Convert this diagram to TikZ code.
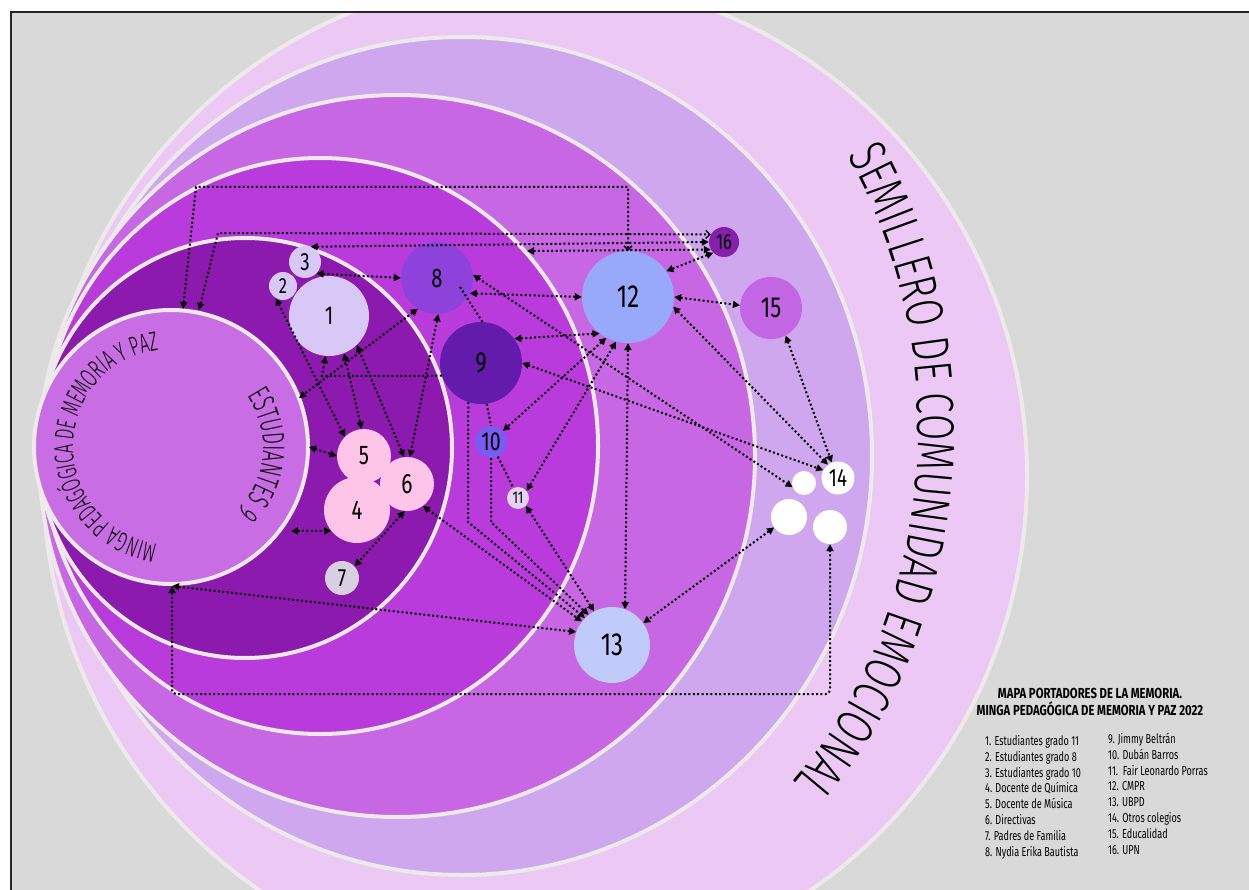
\documentclass[tikz,border=0pt]{standalone}
\usepackage{fontspec}
\usetikzlibrary{arrows.meta,decorations.text}
\newfontfamily\numfont[FakeStretch=0.75]{Fira Sans}
\newfontfamily\legfont[FakeStretch=0.70]{Fira Sans}
\newfontfamily\titfont[FakeStretch=0.78]{Fira Sans}
\newfontfamily\semfont[FakeStretch=0.72]{Fira Sans Light}
\newfontfamily\ringfont[FakeStretch=0.60]{Fira Sans Light}
\definecolor{bg}{HTML}{D9D9D9}
\definecolor{eA}{HTML}{ECC9F5}
\definecolor{eB}{HTML}{CEA7EE}
\definecolor{eC}{HTML}{C767E3}
\definecolor{eD}{HTML}{B93BDC}
\definecolor{eE}{HTML}{8C1AAE}
\definecolor{eF}{HTML}{C86DE3}
\definecolor{rim}{HTML}{EEE9EA}
\definecolor{cLav}{HTML}{D8C8F8}
\definecolor{cEight}{HTML}{8E42DC}
\definecolor{cNine}{HTML}{621BAB}
\definecolor{cTen}{HTML}{7B5CF0}
\definecolor{cEleven}{HTML}{E6D3F3}
\definecolor{cTwelve}{HTML}{98A9FC}
\definecolor{cThirteen}{HTML}{C0CBFB}
\definecolor{cFifteen}{HTML}{C266E3}
\definecolor{cSixteen}{HTML}{861FAA}
\definecolor{cPink}{HTML}{FEC5E8}
\definecolor{cSeven}{HTML}{D9CFE2}
\tikzset{
  Tri/.tip={Triangle[length=7pt,width=7pt]},
  Chev/.tip={Straight Barb[length=4pt,width=8pt,line width=1.4pt]},
  ring/.style={draw=rim, line width=4pt},
  bub/.style={circle, inner sep=0pt, minimum size=#1, text=black},
  num/.style={font=\numfont\fontsize{#1}{#1}\selectfont},
  lnk/.style={draw=black, line width=2pt, dash pattern=on 2pt off 2.4pt},
  twoway/.style={lnk, Tri-Tri},
  oneway/.style={lnk, -Tri},
  leg/.style={font=\legfont\fontsize{13}{13}\selectfont, inner sep=0pt, anchor=base west},
  tit/.style={font=\titfont\bfseries\fontsize{14.5}{14.5}\selectfont, inner sep=0pt}
}
\begin{document}
\begin{tikzpicture}[x=1pt,y=-1pt]
\useasboundingbox (0,0) rectangle (1249,890);
\fill[white] (0,0) rectangle (1249,890);
\fill[bg] (11,12) rectangle (1249,890);
% nested rings
\begin{scope}
\clip (11,12) rectangle (1249,890);
\draw[ring, fill=eA] (535,476) ellipse [x radius=492, y radius=500];
\draw[ring, fill=eB] (462,456) ellipse [x radius=410, y radius=419];
\draw[ring, fill=eC] (397,456) ellipse [x radius=358, y radius=361];
\draw[ring, fill=eD] (320,446) ellipse [x radius=278, y radius=288];
\draw[ring, fill=eE] (245,448) ellipse [x radius=207, y radius=210];
\draw[ring, fill=eF] (171,447) circle [radius=137];
\end{scope}
\draw[line width=1.5pt, draw=black!85] (11,890) -- (11,12) -- (1249,12);
% curved texts
\path[decorate, decoration={text along path, text align=center,
  text={|\semfont\fontsize{53}{53}\selectfont|SEMILLERO DE COMUNIDAD EMOCIONAL}}]
  (822.5,116.3) arc[start angle=-40, end angle=52, x radius=408, y radius=488];
\path[decorate, decoration={text along path, text align=center,
  text={|\ringfont\fontsize{27}{27}\selectfont|MINGA PEDAGÓGICA DE MEMORIA Y PAZ}}]
  (162.5,544.6) arc[start angle=95, end angle=266, radius=98];
\path[decorate, decoration={text along path, text align=center,
  text={|\ringfont\fontsize{31}{31}\selectfont|ESTUDIANTES 9}}]
  (236.1,381.9) arc[start angle=-45, end angle=55, radius=92];
% nodes
\node[bub=80, fill=cLav, num=26] (n1) at (329,316) {1};
\node[bub=28, fill=cLav, num=22] (n2) at (283,286) {2};
\node[bub=32, fill=cLav, num=25] (n3) at (305,262) {3};
\node[bub=54, fill=cPink, num=27] (n5) at (364,456) {5};
\node[bub=66, fill=cPink, num=27] (n4) at (357,510) {4};
\node[bub=54, fill=cPink, num=28] (n6) at (407,484) {6};
\node[bub=34, fill=cSeven, num=25] (n7) at (342,578) {7};
\node[bub=72, fill=cEight, num=27] (n8) at (437,278) {8};
\node[bub=82, fill=cNine, num=29] (n9) at (481,363) {9};
\node[bub=32, fill=cTen, num=26] (n10) at (491,442) {10};
\node[bub=22, fill=cEleven, num=17] (n11) at (518,498) {11};
\node[bub=92, fill=cTwelve, num=32] (n12) at (628,297) {12};
\node[bub=76, fill=cThirteen, num=32] (n13) at (612,645) {13};
\node[bub=24, fill=white] (n14a) at (804,483) {};
\node[bub=36, fill=white] (n14b) at (789,517) {};
\node[bub=34, fill=white] (n14c) at (830,527) {};
\node[bub=33, fill=white, num=25] (n14) at (838,478) {14};
\node[bub=62, fill=cFifteen, num=29] (n15) at (771,308) {15};
\node[bub=30, fill=cSixteen, num=22] (n16) at (724,242) {16};
% helper points
\coordinate (e6a) at (183,309);
\coordinate (e6b) at (199,310);
\coordinate (e6c) at (172,586);
\coordinate (e6d) at (299,398);
\coordinate (e6e) at (309,447);
\coordinate (e6f) at (291,531);
\coordinate (e4a) at (527,251);
\coordinate (b1) at (196,187);
\coordinate (b3) at (218,233);
\coordinate (b4) at (322,376);
\coordinate (b5) at (468,522);
\coordinate (b6) at (491,522);
\coordinate (b7) at (172,694);
\coordinate (b9) at (460,287);
% connectors
\draw[lnk, Tri-Chev] (e6a) -- (b1) -| (n12.north);
\draw[lnk, Tri-Chev] (e6b) -- (b3) -- (n16.150);
\draw[twoway] (n3.70) -- (n16.west);
\draw[twoway] (e4a) -- (n16.210);
\draw[twoway] (n16.225) -- (n12.34);
\draw[twoway] (n3.-45) -- (n8.west);
\draw[twoway] (n8.-25) -- (n12.west);
\draw[twoway] (n9.36) -- (n12.-128);
\draw[twoway] (n12.east) -- (n15.175);
\draw[twoway] (n12.-12) -- (n14.127);
\draw[twoway] (n15.-62) -- (n14.112);
\draw[twoway] (n8.5) -- (n14a.200);
\draw[twoway] (n9.east) -- (n14.152);
\draw[twoway] (n12.south) -- (n13.70);
\draw[twoway] (n12.-118) -- (n10.43);
\draw[twoway] (n12.-105) -- (n11.40);
\draw[twoway] (n11.-45) -- (n13.118);
\draw[oneway] (n10.south) -- (b6) -- (n13.128);
\draw[oneway] (n9.-108) -- (b5) -- (n13.135);
\draw[twoway] (n6.-54) -- (n13.142);
\draw[twoway] (e6c) -- (n13.160);
\draw[twoway, rounded corners=4pt] (e6c) -- (b7) -| (n14c.south);
\draw[twoway] (n14b.215) -- (n13.35);
\draw[twoway] (n2.-120) -- (n5.135);
\draw[oneway] (n9.-162) -- (b4) -- (n1.-95);
\draw[twoway] (n1.-68) -- (n5.95);
\draw[twoway] (n1.-46) -- (n6.96);
\draw[twoway] (n8.-88) -- (n6.84);
\draw[twoway] (n8.-122) -- (e6d);
\draw[twoway] (e6e) -- (n5.west);
\draw[twoway] (e6f) -- (n4.-141);
\draw[twoway] (n6.-95) -- (n7.43);
\draw[lnk] (b9) -- (n9.88);
\draw[lnk] (n9.-82) -- (n10.north);
\draw[lnk] (n10.-65) -- (n11.115);
% legend
\node[tit] (t1) at (1090,693) {MAPA PORTADORES DE LA MEMORIA.};
\node[tit] (t2) at (1090,709) {MINGA PEDAGÓGICA DE MEMORIA Y PAZ 2022};
\foreach \t [count=\i] in {1. Estudiantes grado 11, 2. Estudiantes grado 8, 3. Estudiantes grado 10, 4. Docente de Química, 5. Docente de Música, 6. Directivas, 7. Padres de Familia, 8. Nydia Erika Bautista}
  \node[leg] (la\i) at (985,{745.5+15.8*(\i-1)}) {\t};
\foreach \t [count=\i] in {9. Jimmy Beltrán, 10. Dubán Barros, 11.\ \ Fair Leonardo Porras, 12. CMPR, 13. UBPD, 14. Otros colegios, 15. Educalidad, 16. UPN}
  \node[leg] (lb\i) at (1108,{743.5+15.8*(\i-1)}) {\t};
\end{tikzpicture}
\end{document}
